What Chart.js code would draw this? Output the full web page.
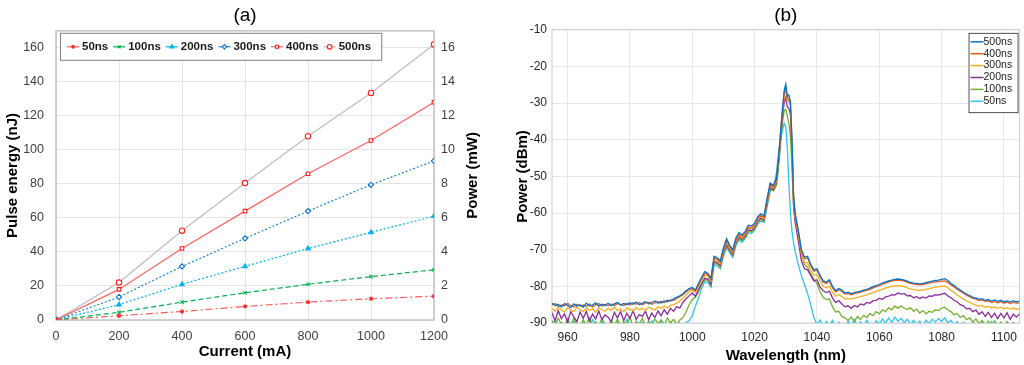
<!DOCTYPE html>
<html>
<head>
<meta charset="utf-8">
<script src="https://cdn.jsdelivr.net/npm/chart.js@4.4.1/dist/chart.umd.min.js"></script>
<style>
  html, body { margin: 0; padding: 0; background: #fff; }
  #wrap { position: relative; width: 1024px; height: 365px; overflow: hidden; }
  canvas { position: absolute; top: 0; }
  #chartA { left: 0; }
  #chartB { left: 510px; }
</style>
</head>
<body>
<div id="wrap">
  <canvas id="chartA" width="486" height="365"></canvas>
  <canvas id="chartB" width="514" height="365"></canvas>
</div>
<script>
// --- DATA (a): pulse energy vs current ---
const current = [0, 200, 400, 600, 800, 1000, 1200];
const e50  = [0, 2.5, 5, 8, 10.5, 12.5, 14];
const e100 = [0, 4.5, 10.5, 16, 21, 25.5, 29.5];
const e200 = [0, 9, 21, 31.5, 42, 51.5, 61];
const e300 = [0, 13.5, 31.5, 48, 64, 79.5, 93.5];
const e400 = [0, 18, 42, 64, 86, 105.5, 128];
const e500 = [0, 22, 52.5, 80.5, 108, 133.5, 162];
const currentTicks = [0, 200, 400, 600, 800, 1000, 1200];
const energyTicks = [0, 20, 40, 60, 80, 100, 120, 140, 160];
const powerTicks = [0, 2, 4, 6, 8, 10, 12, 14, 16];

// --- DATA (b): optical spectra ---
const wavelength = [
  955,956,957,958,959,960,961,962,963,964,
  965,966,967,968,969,970,971,972,973,974,
  975,976,977,978,979,980,981,982,983,984,
  985,986,987,988,989,990,991,992,993,994,
  995,996,997,998,999,1000,1001,1002,1003,1004,
  1005,1006,1007,1008,1009,1010,1011,1012,1013,1014,
  1015,1016,1017,1018,1019,1020,1021,1022,1023,1024,
  1025,1026,1027,1027.5,1028,1028.5,1029,1029.5,1030,1030.5,
  1031,1031.5,1032,1032.5,1033,1034,1035,1036,1037,1038,
  1039,1040,1041,1042,1043,1044,1045,1046,1047,1048,
  1049,1050,1051,1052,1053,1054,1055,1056,1057,1058,
  1059,1060,1061,1062,1063,1064,1065,1066,1067,1068,
  1069,1070,1071,1072,1073,1074,1075,1076,1077,1078,
  1079,1080,1081,1082,1083,1084,1085,1086,1087,1088,
  1089,1090,1091,1092,1093,1094,1095,1096,1097,1098,
  1099,1100,1101,1102,1103,1104,1105
];
const s500 = [
  -84.6,-85.3,-84.9,-85.6,-84.7,-85.2,-85.8,-84.8,-85.4,-85.0,
  -85.7,-84.6,-85.3,-85.1,-84.5,-85.4,-84.9,-85.2,-84.6,-85.3,
  -84.8,-84.4,-85.1,-84.7,-85.0,-84.5,-84.9,-84.3,-85.0,-84.6,
  -84.2,-84.8,-84.4,-84.0,-84.6,-84.1,-84.4,-83.8,-84.0,-83.4,
  -83.0,-82.6,-82.0,-81.2,-80.6,-80.3,-81.0,-79.2,-77.5,-76.0,
  -76.4,-77.8,-71.8,-72.2,-73.0,-69.5,-67.0,-68.8,-70.0,-66.8,
  -65.3,-66.0,-65.0,-63.3,-63.5,-62.8,-61.0,-60.2,-60.8,-56.0,
  -51.8,-52.5,-50.5,-46.5,-41.5,-36.0,-31.0,-26.5,-24.8,-28.2,
  -27.8,-29.5,-40.0,-55.0,-60.0,-64.5,-70.0,-72.0,-71.8,-74.0,
  -75.5,-75.2,-77.0,-78.5,-78.8,-78.2,-80.0,-81.2,-80.6,-81.0,
  -81.8,-81.6,-82.0,-81.7,-81.5,-81.3,-81.0,-80.8,-80.5,-80.1,
  -79.8,-79.5,-79.1,-78.8,-78.5,-78.3,-78.1,-78.0,-78.1,-78.3,
  -78.6,-78.9,-79.1,-79.2,-79.3,-79.2,-79.0,-78.8,-78.6,-78.4,
  -78.3,-78.1,-77.9,-78.4,-79.2,-79.8,-80.5,-81.0,-81.6,-82.1,
  -82.5,-83.0,-83.2,-83.5,-83.4,-83.8,-83.6,-84.0,-83.7,-84.1,
  -83.8,-84.2,-84.0,-84.3,-83.9,-84.2,-84.1
];
const s400 = [
  -85.0,-84.7,-85.5,-85.1,-85.3,-84.6,-85.2,-85.6,-84.9,-85.4,
  -85.1,-85.5,-84.8,-85.6,-85.0,-84.7,-85.4,-84.9,-85.3,-84.8,
  -85.2,-84.7,-84.9,-85.3,-84.6,-85.1,-84.5,-84.9,-84.4,-85.0,
  -84.5,-84.3,-84.9,-84.5,-84.2,-84.6,-83.9,-84.3,-83.7,-83.9,
  -83.3,-82.8,-82.3,-81.5,-80.9,-80.6,-81.2,-79.6,-78.0,-76.5,
  -76.8,-78.2,-72.3,-72.6,-73.4,-70.0,-67.5,-69.2,-70.4,-67.3,
  -65.8,-66.5,-65.5,-63.8,-64.0,-63.2,-61.5,-60.6,-61.2,-56.5,
  -52.2,-52.9,-51.0,-47.0,-42.0,-36.5,-31.5,-27.3,-25.8,-28.8,
  -28.8,-30.5,-40.5,-55.5,-60.5,-65.0,-70.5,-72.4,-72.3,-74.4,
  -75.9,-75.6,-77.4,-78.9,-79.2,-78.6,-80.4,-81.5,-81.0,-81.4,
  -82.1,-82.0,-82.3,-82.0,-81.8,-81.6,-81.3,-81.1,-80.8,-80.4,
  -80.1,-79.8,-79.4,-79.1,-78.8,-78.6,-78.4,-78.3,-78.4,-78.6,
  -78.9,-79.2,-79.4,-79.5,-79.6,-79.5,-79.3,-79.1,-78.9,-78.8,
  -78.7,-78.6,-78.5,-78.9,-79.6,-80.2,-80.8,-81.3,-81.9,-82.4,
  -82.8,-83.3,-83.5,-83.9,-83.7,-84.1,-84.0,-84.4,-84.1,-84.5,
  -84.2,-84.6,-84.3,-84.7,-84.4,-84.6,-84.5
];
const s300 = [
  -86.0,-86.8,-85.6,-86.4,-87.0,-85.8,-86.5,-86.9,-85.7,-86.3,
  -86.9,-85.9,-86.6,-86.1,-87.1,-85.8,-86.4,-86.8,-86.0,-86.5,
  -85.7,-86.6,-86.2,-86.9,-85.9,-86.3,-86.7,-85.8,-86.4,-86.0,
  -86.6,-85.7,-86.1,-86.5,-85.6,-86.0,-85.4,-85.9,-85.2,-85.0,
  -84.6,-84.0,-83.2,-82.4,-81.6,-81.0,-81.6,-80.0,-78.4,-77.0,
  -77.2,-78.6,-72.6,-72.9,-73.8,-70.4,-68.0,-69.6,-70.8,-67.6,
  -66.1,-66.8,-65.8,-64.1,-64.3,-63.5,-61.8,-60.9,-61.5,-56.9,
  -52.5,-53.2,-51.3,-47.4,-42.5,-37.0,-32.0,-27.8,-26.4,-29.4,
  -29.3,-30.8,-41.0,-56.0,-61.0,-65.8,-71.2,-73.5,-73.6,-75.6,
  -77.0,-76.8,-78.6,-80.0,-80.4,-79.9,-81.6,-82.7,-82.3,-82.8,
  -83.4,-83.3,-83.5,-83.2,-83.0,-82.8,-82.5,-82.3,-82.0,-81.7,
  -81.4,-81.1,-80.8,-80.5,-80.2,-80.0,-79.9,-79.8,-79.9,-80.1,
  -80.4,-80.7,-80.9,-81.0,-81.1,-81.0,-80.8,-80.6,-80.4,-80.2,
  -80.1,-80.0,-79.9,-80.4,-81.1,-81.7,-82.4,-82.9,-83.5,-84.0,
  -84.3,-84.8,-85.1,-85.4,-85.2,-85.7,-85.5,-85.9,-85.6,-86.0,
  -85.7,-86.1,-85.8,-86.2,-85.9,-86.3,-86.0
];
const s200 = [
  -87.2,-89.4,-86.6,-88.8,-87.5,-89.8,-86.9,-88.3,-89.6,-87.0,
  -88.7,-86.8,-89.5,-87.6,-88.9,-86.7,-89.1,-87.8,-88.4,-89.7,
  -87.1,-88.6,-86.9,-89.3,-87.4,-88.8,-86.6,-89.0,-87.7,-88.2,
  -86.8,-89.1,-87.3,-88.5,-86.7,-88.0,-86.4,-87.6,-86.0,-86.8,
  -85.6,-85.9,-84.4,-83.4,-82.6,-81.8,-82.7,-80.9,-79.3,-77.8,
  -78.0,-79.4,-73.2,-73.5,-74.3,-70.9,-68.5,-70.0,-71.3,-68.0,
  -66.5,-67.2,-66.2,-64.5,-64.8,-63.9,-62.2,-61.3,-61.9,-57.3,
  -52.9,-53.6,-51.8,-48.0,-43.2,-38.0,-33.3,-29.8,-28.5,-31.0,
  -31.4,-33.0,-43.0,-57.5,-62.5,-67.5,-73.0,-75.2,-75.5,-77.0,
  -78.5,-78.2,-80.2,-81.2,-81.7,-81.3,-83.2,-84.4,-83.9,-84.8,
  -85.6,-85.3,-86.0,-85.2,-85.6,-84.8,-85.1,-84.4,-84.6,-83.9,
  -83.8,-83.3,-83.5,-82.9,-82.7,-82.3,-82.4,-81.8,-82.1,-82.0,
  -82.6,-82.5,-83.1,-82.8,-83.3,-82.9,-83.2,-82.6,-82.7,-82.3,
  -82.4,-82.1,-81.9,-82.6,-83.1,-83.8,-84.2,-85.0,-85.3,-86.1,
  -86.0,-86.9,-86.5,-87.6,-86.9,-88.2,-87.1,-88.5,-87.3,-88.8,
  -87.4,-88.6,-87.2,-89.0,-87.6,-88.4,-87.5
];
const s100 = [
  -89.3,-91.0,-88.7,-90.4,-91.5,-89.0,-90.8,-88.6,-90.2,-91.3,
  -89.1,-90.6,-88.5,-91.2,-89.7,-90.9,-88.8,-90.3,-91.4,-89.4,
  -90.7,-88.9,-91.1,-89.6,-90.5,-88.4,-91.0,-89.8,-90.2,-88.7,
  -91.2,-89.5,-90.8,-88.9,-90.1,-89.2,-91.0,-88.6,-89.9,-89.0,
  -90.4,-89.2,-88.5,-87.0,-85.0,-83.6,-83.0,-81.5,-79.6,-78.2,
  -78.3,-79.8,-73.6,-73.9,-74.8,-71.3,-68.9,-70.4,-71.7,-68.4,
  -66.8,-67.6,-66.6,-64.9,-65.2,-64.3,-62.6,-61.7,-62.3,-57.8,
  -53.4,-54.0,-52.5,-49.0,-44.5,-39.5,-35.0,-32.0,-31.7,-33.5,
  -35.5,-39.0,-48.0,-58.5,-62.0,-66.5,-71.5,-74.0,-74.8,-76.6,
  -78.0,-79.2,-81.5,-83.0,-83.6,-83.4,-85.6,-87.0,-86.8,-88.2,
  -88.6,-89.3,-88.4,-89.6,-88.2,-89.0,-87.9,-88.5,-87.4,-88.0,
  -86.9,-87.5,-86.4,-86.9,-85.8,-86.4,-85.4,-86.0,-85.3,-85.9,
  -86.3,-85.8,-86.8,-86.2,-87.3,-86.6,-87.5,-86.8,-87.1,-86.4,
  -86.6,-85.9,-85.7,-86.4,-86.9,-87.8,-87.4,-88.5,-88.0,-89.1,
  -88.6,-89.7,-88.9,-90.2,-89.3,-90.6,-89.5,-91.0,-89.4,-90.7,
  -89.8,-91.2,-89.6,-90.9,-89.9,-91.3,-90.2
];
const s50 = [
  -90.6,-89.2,-91.4,-89.8,-90.9,-88.9,-91.2,-89.5,-90.3,-91.6,
  -89.4,-90.8,-91.3,-89.1,-90.5,-91.7,-89.6,-90.2,-91.0,-89.3,
  -91.5,-89.7,-90.4,-91.2,-89.0,-90.7,-91.4,-89.5,-90.9,-89.8,
  -90.6,-91.3,-89.4,-90.8,-91.5,-89.2,-90.4,-91.1,-89.7,-90.9,
  -91.2,-90.0,-90.8,-89.9,-89.4,-88.0,-85.4,-83.2,-80.6,-78.8,
  -78.9,-80.2,-74.0,-74.4,-75.2,-71.8,-69.4,-70.9,-72.1,-68.9,
  -67.3,-68.0,-67.0,-65.3,-65.6,-64.7,-63.0,-62.1,-62.6,-58.3,
  -54.0,-53.5,-49.0,-45.0,-41.5,-39.0,-37.2,-35.6,-36.5,-42.0,
  -52.0,-60.0,-65.0,-68.0,-70.5,-74.0,-77.0,-79.5,-82.0,-85.0,
  -88.5,-90.4,-89.2,-91.1,-89.6,-90.8,-89.3,-91.3,-89.8,-90.6,
  -91.4,-89.5,-90.7,-89.1,-91.0,-89.7,-90.9,-89.3,-90.5,-91.2,
  -89.4,-90.3,-88.9,-90.1,-88.6,-89.8,-88.4,-89.5,-88.7,-89.9,
  -89.0,-90.4,-89.3,-90.6,-89.5,-91.0,-89.2,-90.1,-89.0,-89.7,
  -88.8,-89.6,-88.6,-89.9,-89.3,-90.5,-89.6,-91.1,-89.8,-90.9,
  -91.4,-89.7,-90.8,-91.5,-89.9,-90.6,-91.3,-89.6,-90.9,-91.6,
  -89.8,-91.2,-90.4,-91.5,-89.9,-90.7,-91.3
];
const wavelengthTicks = [960, 980, 1000, 1020, 1040, 1060, 1080, 1100];
const dbmTicks = [-90, -80, -70, -60, -50, -40, -30, -20, -10];

const FONT = '"Liberation Sans", Arial, sans-serif';

function pts(xs, ys) {
    return xs.map((x, i) => ({ x: x, y: ys[i] }));
}

function plain(v) {
    return String(v);
}

// box around the plot area
const frame = {
    id: 'frame',
    beforeDatasetsDraw(chart, args, opts) {
        const a = chart.chartArea, ctx = chart.ctx;
        ctx.save();
        ctx.strokeStyle = opts.color;
        ctx.lineWidth = opts.width;
        ctx.strokeRect(a.left, a.top, a.right - a.left, a.bottom - a.top);
        ctx.restore();
    }
};

// right axis title, reading bottom to top like the left one
const rightTitle = {
    id: 'rightTitle',
    afterDraw(chart) {
        const s = chart.scales.y2, ctx = chart.ctx;
        ctx.save();
        ctx.translate(s.right - 13, (s.top + s.bottom) / 2);
        ctx.rotate(-Math.PI / 2);
        ctx.font = 'bold 15px ' + FONT;
        ctx.fillStyle = '#000';
        ctx.textAlign = 'center';
        ctx.textBaseline = 'middle';
        ctx.fillText('Power (mW)', 0, 0);
        ctx.restore();
    }
};

// horizontal legend inside the plot, top-left (chart a)
const legendA = {
    id: 'legendA',
    afterDraw(chart) {
        const { ctx, chartArea } = chart;
        const x0 = chartArea.left + 4, y0 = chartArea.top + 2, h = 27;
        ctx.save();
        ctx.font = 'bold 11.5px ' + FONT;
        let w = 8;
        chart.data.datasets.forEach(ds => { w += 16 + ctx.measureText(ds.label).width + 4; });
        w += 4;
        ctx.fillStyle = '#fff';
        ctx.fillRect(x0, y0, w, h);
        ctx.strokeStyle = '#7f7f7f';
        ctx.lineWidth = 1;
        ctx.strokeRect(x0 + 0.5, y0 + 0.5, w, h);
        let cx = x0 + 7;
        const cy = y0 + h / 2 + 0.5;
        chart.data.datasets.forEach(ds => {
            ctx.setLineDash([]);
            ctx.strokeStyle = ds.legendLine || ds.borderColor;
            ctx.lineWidth = 1.2;
            ctx.beginPath();
            ctx.moveTo(cx, cy);
            ctx.lineTo(cx + 12, cy);
            ctx.stroke();
            ctx.fillStyle = ds.pointBackgroundColor;
            ctx.strokeStyle = ds.pointBorderColor;
            ctx.lineWidth = ds.pointBorderWidth;
            Chart.helpers.drawPoint(ctx, { pointStyle: ds.pointStyle, radius: ds.pointRadius * 0.85, borderWidth: ds.pointBorderWidth, rotation: 0 }, cx + 6, cy);
            ctx.fillStyle = '#1a1a1a';
            ctx.textBaseline = 'middle';
            ctx.fillText(ds.label, cx + 15, cy);
            cx += 16 + ctx.measureText(ds.label).width + 4;
        });
        ctx.restore();
    }
};

// vertical legend inside the plot, top-right (chart b)
const legendB = {
    id: 'legendB',
    afterDraw(chart) {
        const { ctx, chartArea } = chart;
        const w = 49, rowH = 11.9;
        const n = chart.data.datasets.length;
        const x0 = chartArea.right - w - 2, y0 = chartArea.top + 3;
        ctx.save();
        ctx.fillStyle = '#fff';
        ctx.fillRect(x0, y0, w, n * rowH + 8);
        ctx.strokeStyle = '#262626';
        ctx.lineWidth = 0.8;
        ctx.strokeRect(x0 + 0.5, y0 + 0.5, w, n * rowH + 8);
        ctx.font = '10.5px ' + FONT;
        ctx.textBaseline = 'middle';
        chart.data.datasets.forEach((ds, i) => {
            const y = y0 + 9 + i * rowH;
            ctx.strokeStyle = ds.borderColor;
            ctx.lineWidth = 1.5;
            ctx.beginPath();
            ctx.moveTo(x0 + 2, y);
            ctx.lineTo(x0 + 15, y);
            ctx.stroke();
            ctx.fillStyle = '#1a1a1a';
            ctx.fillText(ds.label, x0 + 15, y);
        });
        ctx.restore();
    }
};

// --- CHART (a) ---
function lineSet(label, data, line, dash, style, fill, edge, r) {
    return {
        label: label,
        data: pts(current, data),
        borderColor: line,
        borderWidth: 1.2,
        borderDash: dash,
        pointStyle: style,
        pointRadius: r,
        pointBackgroundColor: fill,
        pointBorderColor: edge,
        pointBorderWidth: 1.1,
        yAxisID: 'y'
    };
}

const dsA = [
    lineSet('50ns', e50, '#ff5a5a', [7, 3, 2, 3], 'star', '#ff2b2b', '#ff2b2b', 2.2),
    lineSet('100ns', e100, '#00b050', [5, 3], 'crossRot', '#00b050', '#00b050', 2.4),
    lineSet('200ns', e200, '#00b0f0', [2, 2], 'triangle', '#00b0f0', '#00b0f0', 2.6),
    lineSet('300ns', e300, '#1f86d6', [2, 2], 'rectRot', '#ffffff', '#0a70c8', 2.6),
    lineSet('400ns', e400, '#ff6464', [], 'rect', '#ffffff', '#ff2020', 2.5),
    lineSet('500ns', e500, '#bdbdbd', [], 'circle', '#ffffff', '#ff2020', 2.7)
];
dsA[5].legendLine = '#ff9a9a';

new Chart(document.getElementById('chartA'), {
    type: 'line',
    data: { datasets: dsA },
    plugins: [frame, legendA, rightTitle],
    options: {
        responsive: false,
        animation: false,
        devicePixelRatio: 1,
        layout: { padding: 0 },
        plugins: {
            legend: { display: false },
            tooltip: { enabled: false },
            frame: { color: '#c3c3c3', width: 1.5 },
            title: {
                display: true, text: '(a)', fullSize: false, color: '#000',
                font: { family: FONT, size: 19, weight: 'normal' },
                padding: { top: 4, bottom: 4 }
            }
        },
        scales: {
            x: {
                type: 'linear', min: 0, max: 1200,
                afterBuildTicks: s => { s.ticks = currentTicks.map(v => ({ value: v })); },
                afterFit: s => { s.height = 45; },
                grid: { color: '#e4e4e4', drawTicks: false },
                border: { display: false },
                ticks: { color: '#404040', padding: 9, font: { family: FONT, size: 12.5 }, maxRotation: 0, callback: plain },
                title: { display: true, text: 'Current (mA)', color: '#000', font: { family: FONT, size: 15, weight: 'bold' }, padding: { top: 0, bottom: 4 } }
            },
            y: {
                position: 'left', min: 0, max: 170,
                afterBuildTicks: s => { s.ticks = energyTicks.map(v => ({ value: v })); },
                afterFit: s => { s.width = 56; },
                grid: { color: '#e4e4e4', drawTicks: false },
                border: { display: false },
                ticks: { color: '#404040', padding: 12, font: { family: FONT, size: 12.5 }, callback: plain },
                title: { display: true, text: 'Pulse energy (nJ)', color: '#000', font: { family: FONT, size: 15, weight: 'bold' }, padding: { top: 4, bottom: 4 } }
            },
            y2: {
                position: 'right', min: 0, max: 17,
                afterBuildTicks: s => { s.ticks = powerTicks.map(v => ({ value: v })); },
                afterFit: s => { s.width = 52; },
                grid: { drawOnChartArea: false, drawTicks: false },
                border: { display: false },
                ticks: { color: '#404040', padding: 7, font: { family: FONT, size: 12.5 }, callback: plain },
                title: { display: false }
            }
        }
    }
});

// --- CHART (b) ---
function specSet(label, data, color) {
    return {
        label: label,
        data: pts(wavelength, data),
        borderColor: color,
        borderWidth: 1.3,
        pointRadius: 0,
        tension: 0,
        clip: 0
    };
}

const dsB = [
    specSet('500ns', s500, '#0a74c4'),
    specSet('400ns', s400, '#ec5a1e'),
    specSet('300ns', s300, '#f5b01f'),
    specSet('200ns', s200, '#8a2f9a'),
    specSet('100ns', s100, '#74b12c'),
    specSet('50ns', s50, '#2fc3f0')
];

new Chart(document.getElementById('chartB'), {
    type: 'line',
    data: { datasets: dsB },
    plugins: [frame, legendB],
    options: {
        responsive: false,
        animation: false,
        devicePixelRatio: 1,
        layout: { padding: { right: 3 } },
        plugins: {
            legend: { display: false },
            tooltip: { enabled: false },
            frame: { color: '#cccccc', width: 1 },
            title: {
                display: true, text: '(b)', fullSize: false, color: '#000',
                font: { family: FONT, size: 19, weight: 'normal' },
                padding: { top: 4, bottom: 3 }
            }
        },
        scales: {
            x: {
                type: 'linear', min: 955, max: 1105,
                afterBuildTicks: s => { s.ticks = wavelengthTicks.map(v => ({ value: v })); },
                afterFit: s => { s.height = 42; },
                grid: { color: '#e8e8e8', drawTicks: false },
                border: { display: false },
                ticks: { color: '#262626', padding: 7, font: { family: FONT, size: 12 }, maxRotation: 0, callback: plain },
                title: { display: true, text: 'Wavelength (nm)', color: '#000', font: { family: FONT, size: 15, weight: 'bold' }, padding: { top: 0, bottom: 0 } }
            },
            y: {
                min: -90, max: -10,
                afterBuildTicks: s => { s.ticks = dbmTicks.map(v => ({ value: v })); },
                afterFit: s => { s.width = 42; },
                grid: { color: '#e8e8e8', drawTicks: false },
                border: { display: false },
                ticks: { color: '#262626', padding: 5, font: { family: FONT, size: 12 }, callback: plain },
                title: { display: true, text: 'Power (dBm)', color: '#000', font: { family: FONT, size: 15, weight: 'bold' }, padding: { top: 4, bottom: 4 } }
            }
        }
    }
});
</script>
</body>
</html>
